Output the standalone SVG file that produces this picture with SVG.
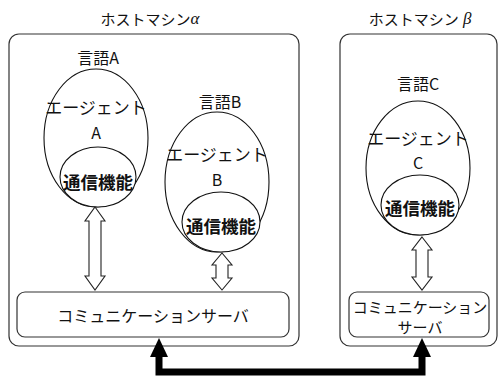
<svg xmlns="http://www.w3.org/2000/svg" width="499" height="378" viewBox="0 0 499 378">
<style>
.t{font-family:"Noto Sans CJK JP","Noto Sans",sans-serif;fill:#111;text-anchor:middle;dominant-baseline:central}
.g{font-family:"Liberation Serif",serif;font-style:italic}
.b{font-weight:bold}
.box{fill:none;stroke:#333;stroke-width:1.2}
.el{fill:#fff;stroke:#111;stroke-width:1.1}
.da{fill:#fff;stroke:#222;stroke-width:1.1}
</style>
<rect width="499" height="378" fill="#fff"/>
<g id="hostA">
<text class="t" x="150" y="18" font-size="15">ホストマシン<tspan class="g" font-size="17">α</tspan></text>
<rect class="box" x="9" y="34" width="290" height="312" rx="10"/>
</g>
<g id="hostB">
<text class="t" x="420" y="18" font-size="15">ホストマシン<tspan class="g" font-size="17"> β</tspan></text>
<rect class="box" x="340" y="34" width="157" height="312" rx="10"/>
</g>
<g id="agentA">
<text class="t" x="98" y="57" font-size="16">言語A</text>
<ellipse class="el" cx="96" cy="138" rx="52" ry="69"/>
<text class="t" x="96" y="106" font-size="17">エージェント</text>
<text class="t" x="96" y="132" font-size="16">A</text>
</g>
<g id="commA">
<ellipse class="el" cx="98" cy="177" rx="38" ry="30"/>
<text class="t b" x="98" y="181" font-size="17.5">通信機能</text>
</g>
<g id="agentB">
<text class="t" x="220" y="101" font-size="16">言語B</text>
<ellipse class="el" cx="217" cy="182" rx="52" ry="70"/>
<text class="t" x="217" y="153" font-size="17">エージェント</text>
<text class="t" x="217" y="179" font-size="16">B</text>
</g>
<g id="commB">
<ellipse class="el" cx="221" cy="222" rx="39" ry="30"/>
<text class="t b" x="221" y="225" font-size="17.5">通信機能</text>
</g>
<g id="agentC">
<text class="t" x="418" y="83" font-size="16">言語C</text>
<ellipse class="el" cx="418" cy="168" rx="52" ry="67"/>
<text class="t" x="418" y="137" font-size="17">エージェント</text>
<text class="t" x="418" y="162" font-size="16">C</text>
</g>
<g id="commC">
<ellipse class="el" cx="420" cy="205" rx="39" ry="30"/>
<text class="t b" x="420" y="207" font-size="17.5">通信機能</text>
</g>
<g id="serverA">
<rect class="box" x="17" y="292" width="272" height="45" rx="8"/>
<text class="t" x="153" y="315" font-size="16">コミュニケーションサーバ</text>
</g>
<g id="serverB">
<rect class="box" x="349" y="292" width="140" height="45" rx="8"/>
<text class="t" x="420" y="306" font-size="15">コミュニケーション</text>
<text class="t" x="420" y="326" font-size="15">サーバ</text>
</g>
<g id="connectors">
<polygon class="da" points="95,207 105,221 101,221 101,276 105,276 95,290 85,276 89,276 89,221 85,221"/>
<polygon class="da" points="222,253 232,265 228,265 228,278 232,278 222,290 212,278 216,278 216,265 212,265"/>
<polygon class="da" points="422,237 432,250 428,250 428,277 432,277 422,290 412,277 416,277 416,250 412,250"/>
<path d="M159,356 V372 H422 V356" fill="none" stroke="#000" stroke-width="7"/>
<polygon points="159,338 168,357 150,357" fill="#000"/>
<polygon points="422,338 431,357 413,357" fill="#000"/>
</g>
</svg>
